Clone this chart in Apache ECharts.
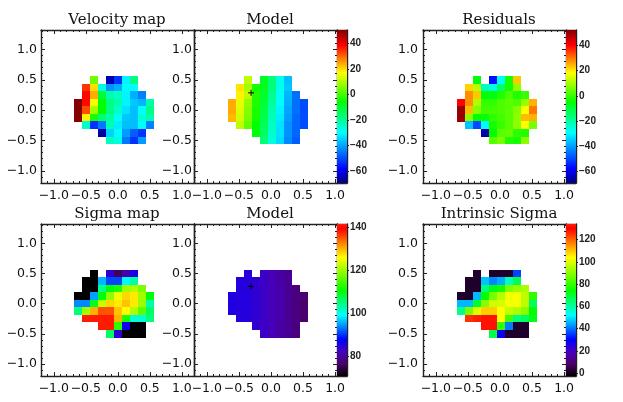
<!DOCTYPE html>
<html><head><meta charset="utf-8">
<style>html,body{margin:0;padding:0;background:#fff}#c{width:623px;height:402px}</style>
<script src="https://cdn.jsdelivr.net/npm/echarts@6/dist/echarts.min.js"></script>
</head><body><div id="c"></div>
<script>
const _ = null;
const xCenters = [-0.615,-0.49,-0.365,-0.24,-0.115,0.01,0.135,0.26,0.385,0.51];
const yCenters = [0.5,0.375,0.25,0.125,0,-0.125,-0.25,-0.375,-0.5];

const velocityMap = [
[_,_,4,_,-65,-53,-31,-18,_,_],
[_,34,20,-27,-42,-39,-30,-30,_,_],
[_,38,24,-11,-22,-24,-31,-39,-44,_],
[50,38,16,-6,-18,-22,-31,-36,-38,-22],
[50,32,9,-6,-18,-25,-33,-37,-30,-18],
[50,18,-4,-16,-21,-29,-36,-37,-26,-22],
[_,-25,-53,-45,-23,-32,-37,-37,-30,-44],
[_,_,_,-66,-35,-30,-41,-48,-53,_],
[_,_,_,_,-24,-27,-45,-53,-41,_]];

const velocityModel = [
[_,_,11,_,-9,-17,-28,-37,_,_],
[_,19,9,-4,-9,-17,-28,-36,_,_],
[_,18,11,-3,-10,-19,-29,-38,-46,_],
[24,15,7,-3,-11,-20,-30,-39,-46,-50],
[24,14,6,-4,-12,-22,-31,-40,-46,-50],
[23,13,5,-4,-13,-23,-32,-41,-47,-50],
[_,11,3,-6,-14,-24,-33,-42,-47,-50],
[_,_,_,-7,-15,-25,-33,-42,-47,_],
[_,_,_,_,-17,-27,-34,-43,-48,_]];

const residuals = [
[_,_,-6,_,-57,-29,-3,23,_,_],
[_,22,12,-23,-27,-15,-3,8,_,_],
[_,28,23,-6,-6,-2,2,-2,0,_],
[40,28,11,0,-1,2,3,2,9,25],
[50,24,7,1,1,2,3,7,18,30],
[50,8,-5,-4,-1,1,3,8,24,25],
[_,-36,-50,-29,-3,0,3,8,18,6],
[_,_,_,-66,-5,3,4,-1,-2,_],
[_,_,_,_,3,6,-2,-3,8,_]];

const sigmaMap = [
[_,_,71,_,84,76,81,86,_,_],
[_,71,71,96,91,91,99,103,_,_],
[_,71,71,104,110,112,120,121,118,_],
[71,71,95,110,119,125,128,127,120,110],
[94,94,109,122,128,127,129,127,120,103],
[105,120,130,135,135,129,126,121,116,106],
[_,141,141,141,141,130,112,101,101,105],
[_,_,_,141,141,113,87,71,71,_],
[_,_,_,_,106,84,71,71,71,_]];

const sigmaModel = [
[_,_,84.5,_,83,82,80.5,79.5,_,_],
[_,85,84.5,84,83,82,80.5,79.5,_,_],
[_,85,85,84,83,82,81,79.5,78,_],
[85.5,85,85,84,83,82,81,79.5,78,77],
[85.5,85,85,84,83,82,81,79.5,78,77],
[85.5,85,85,84,83,82,81,79.5,78,77],
[_,85,84.5,84,83,82,81,79.5,78,77],
[_,_,_,84,83,82,80.5,79.5,78,_],
[_,_,_,_,83,82,80.5,79.5,78,_]];

const intrinsicSigma = [
[_,_,2,_,2,2,2,36,_,_],
[_,2,2,47,42,45,58,67,_,_],
[_,2,2,63,72,76,89,92,94,_],
[2,2,46,74,88,95,102,103,96,79],
[46,46,70,90,98,99,103,103,96,66],
[62,88,100,109,109,104,97,94,90,74],
[_,125,127,128,128,104,82,63,66,72],
[_,_,_,128,128,80,41,2,2,_],
[_,_,_,_,68,28,2,2,2,_]];

const centerX = [-0.31];
const centerY = [0.285];
const spatialTicks = [-1,-0.5,0,0.5,1];
const spatialMinorX = [-1.2,-1.1,-0.9,-0.8,-0.7,-0.6,-0.4,-0.3,-0.2,-0.1,0.1,0.2,0.3,0.4,0.6,0.7,0.8,0.9,1.1,1.2];
const spatialMinorY = spatialMinorX.concat([1.3]);
const velocityTicks = [-60,-40,-20,0,20,40];
const sigmaTicks = [80,100,120,140];
const intrinsicTicks = [0,20,40,60,80,100,120];

const jet = [[0,'#000080'],[0.09,'#0000ff'],[0.33,'#00ffff'],[0.53,'#00ff00'],[0.72,'#ffff00'],[0.90,'#ff0000'],[1,'#800000']];
const rainbow = [[0,'#000000'],[0.08,'#4b0069'],[0.16,'#4600be'],[0.24,'#0000ff'],[0.40,'#00ffff'],[0.56,'#00ff00'],[0.78,'#ffff00'],[0.97,'#ff0000'],[1,'#ff2000']];

function hex(h){return [1,3,5].map(i=>parseInt(h.substr(i,2),16));}
function colorAt(stops,t){
  t=Math.max(0,Math.min(1,t));
  for(let i=1;i<stops.length;i++){
    if(t<=stops[i][0]){
      const a=stops[i-1],b=stops[i],f=(t-a[0])/(b[0]-a[0]);
      const ca=hex(a[1]),cb=hex(b[1]);
      return 'rgb('+ca.map((v,k)=>Math.round(v+(cb[k]-v)*f)).join(',')+')';
    }
  }
  return stops[stops.length-1][1];
}
const cellW = 0.125, cellH = 0.126;
const YMIN=-1.2, YMAX=1.32;
const PANELS = [
 {title:'Velocity map',tx:117,ty:19,l:41,r:194,t:30,b:183,xmin:-1.2,xmax:1.19,lm:4,rows:velocityMap,stops:jet,vmin:-69.4,vmax:50.5},
 {title:'Model',tx:270,ty:19,l:194,r:337,t:30,b:183,xmin:-1.2,xmax:1.03,lm:2,rows:velocityModel,stops:jet,vmin:-69.4,vmax:50.5,bar:velocityTicks,cross:true},
 {title:'Residuals',tx:499,ty:19,l:423,r:566,t:30,b:183,xmin:-1.2,xmax:1.03,lm:5,rows:residuals,stops:jet,vmin:-69.6,vmax:52.5,bar:velocityTicks},
 {title:'Sigma map',tx:117,ty:213,l:41,r:194,t:224,b:376,xmin:-1.2,xmax:1.19,lm:4,rows:sigmaMap,stops:rainbow,vmin:71,vmax:141.4},
 {title:'Model',tx:270,ty:213,l:194,r:337,t:224,b:376,xmin:-1.2,xmax:1.03,lm:2,rows:sigmaModel,stops:rainbow,vmin:71,vmax:141.4,bar:sigmaTicks,cross:true},
 {title:'Intrinsic Sigma',tx:499,ty:213,l:423,r:566,t:224,b:376,xmin:-1.2,xmax:1.03,lm:5,rows:intrinsicSigma,stops:rainbow,vmin:-2.5,vmax:134,bar:intrinsicTicks}
];
const INK='#222222', W=623, H=402;
const tickFont={fontFamily:'DejaVu Sans',fontSize:12.5,color:'#111'};
const fmt1=v=>v.toFixed(1).replace('-','\u2212');
const fmt0=v=>String(Math.round(v)).replace('-','\u2212');

const opt={animation:false,backgroundColor:'#fff',title:[],grid:[],xAxis:[],yAxis:[],series:[]};

function addX(g,a,b,pos,vals,len,line,labels){
  opt.xAxis.push({type:'value',gridIndex:g,min:a,max:b,position:pos,
    axisLine:{show:line,onZero:false,lineStyle:{color:INK,width:1.4}},splitLine:{show:false},
    axisTick:{show:!!vals,inside:true,length:len,customValues:vals||[],lineStyle:{color:INK,width:1}},
    axisLabel:labels?{show:true,customValues:vals,formatter:fmt1,margin:6,hideOverlap:false,showMinLabel:true,showMaxLabel:true,...tickFont}:{show:false}});
  return opt.xAxis.length-1;
}
function addY(g,a,b,pos,vals,len,line,labels,font,fmt,margin){
  opt.yAxis.push({type:'value',gridIndex:g,min:a,max:b,position:pos,
    axisLine:{show:line,onZero:false,lineStyle:{color:INK,width:1.4}},splitLine:{show:false},
    axisTick:{show:!!vals,inside:pos==='left'||!font,length:len,customValues:vals||[],lineStyle:{color:INK,width:1}},
    axisLabel:labels?{show:true,customValues:vals,formatter:fmt,margin,hideOverlap:false,...font}:{show:false}});
  return opt.yAxis.length-1;
}
function addGrid(l,r,t,b){
  opt.grid.push({left:l,top:t,width:r-l,height:b-t,containLabel:false});
  return opt.grid.length-1;
}
function cellsOf(rows){
  const d=[];
  rows.forEach((row,j)=>row.forEach((v,i)=>{if(v!==null)d.push([xCenters[i],yCenters[j],v]);}));
  return d;
}
PANELS.forEach(p=>{
  opt.title.push({text:p.title,left:p.tx,top:p.ty-6,padding:0,textAlign:'center',
    textStyle:{fontFamily:'DejaVu Serif',fontSize:15,fontWeight:'normal',color:'#111'}});
  const g=addGrid(p.l,p.r,p.t,p.b);
  const xb=addX(g,p.xmin,p.xmax,'bottom',spatialTicks,4,true,true);
  addX(g,p.xmin,p.xmax,'top',spatialTicks,4,true,false);
  addX(g,p.xmin,p.xmax,'bottom',spatialMinorX.filter(v=>v>p.xmin&&v<p.xmax),2,false,false);
  addX(g,p.xmin,p.xmax,'top',spatialMinorX.filter(v=>v>p.xmin&&v<p.xmax),2,false,false);
  const yl=addY(g,YMIN,YMAX,'left',spatialTicks,4,true,true,tickFont,fmt1,p.lm);
  addY(g,YMIN,YMAX,'right',spatialTicks,p.bar?4:0,true,false);
  addY(g,YMIN,YMAX,'left',spatialMinorY,2,false,false);
  if(p.bar) addY(g,YMIN,YMAX,'right',spatialMinorY,2,false,false);
  const stops=p.stops,vmin=p.vmin,vmax=p.vmax;
  opt.series.push({type:'custom',xAxisIndex:xb,yAxisIndex:yl,silent:true,z:1,
    encode:{x:0,y:1},data:cellsOf(p.rows),
    renderItem:(params,api)=>{
      const x=api.value(0),y=api.value(1),v=api.value(2);
      const a=api.coord([x-cellW/2,y+cellH/2]),c=api.coord([x+cellW/2,y-cellH/2]);
      const x0=Math.round(a[0]),y0=Math.round(a[1]),x1=Math.round(c[0]),y1=Math.round(c[1]);
      return {type:'rect',shape:{x:x0,y:y0,width:x1-x0,height:y1-y0},
        style:{fill:colorAt(stops,(v-vmin)/(vmax-vmin)),stroke:null}};
    }});
  if(p.cross){
    opt.series.push({type:'custom',xAxisIndex:xb,yAxisIndex:yl,silent:true,z:3,
      encode:{x:0,y:1},data:[[centerX[0],centerY[0]]],
      renderItem:(params,api)=>{
        const c=api.coord([api.value(0),api.value(1)]);
        return {type:'group',children:[
          {type:'line',shape:{x1:c[0]-3,y1:c[1],x2:c[0]+3,y2:c[1]},style:{stroke:'#000',lineWidth:1}},
          {type:'line',shape:{x1:c[0],y1:c[1]-3,x2:c[0],y2:c[1]+3},style:{stroke:'#000',lineWidth:1}}]};
      }});
  }
  if(p.bar){
    const bg=addGrid(p.r,p.r+10,p.t,p.b);
    const bx=addX(bg,0,1,'bottom',null,0,true,false);
    addX(bg,0,1,'top',null,0,true,false);
    const by=addY(bg,vmin,vmax,'right',p.bar,2,true,true,
      {fontFamily:'Liberation Sans',fontSize:10,fontWeight:'bold',color:'#222'},fmt0,3);
    opt.series.push({type:'custom',xAxisIndex:bx,yAxisIndex:by,silent:true,z:1,
      encode:{x:0,y:1},data:[[0,vmin,1,vmax]],
      renderItem:(params,api)=>{
        const a=api.coord([api.value(0),api.value(3)]),c=api.coord([api.value(2),api.value(1)]);
        return {type:'rect',shape:{x:a[0],y:a[1],width:c[0]-a[0],height:c[1]-a[1]},
          style:{fill:new echarts.graphic.LinearGradient(0,1,0,0,stops.map(s=>({offset:s[0],color:s[1]}))),stroke:null}};
      }});
  }
});
const chart=echarts.init(document.getElementById('c'),null,{renderer:'canvas',width:W,height:H});
chart.setOption(opt);
</script></body></html>
